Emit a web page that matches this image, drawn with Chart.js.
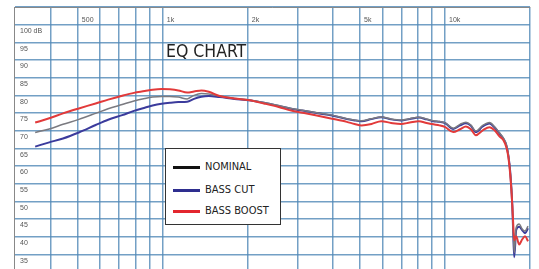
<!DOCTYPE html>
<html>
<head>
<meta charset="utf-8">
<title>EQ CHART</title>
<script src="https://cdn.jsdelivr.net/npm/chart.js@4/dist/chart.umd.min.js"></script>
<style>
    body { margin: 0; background: #fff; overflow: hidden; }
    #wrap { position: relative; width: 539px; height: 300px; }
    #title {
        position: absolute; left: 166px; top: 42px;
        font: 17.5px/18px "Liberation Sans Narrow", "DejaVu Sans Condensed", sans-serif;
        color: #222;
    }
    #legend {
        position: absolute; left: 165px; top: 148px; width: 114px; height: 75px;
        background: #fff; border: 1.5px solid #333;
    }
    .row { position: absolute; left: 7px; height: 12px; display: flex; align-items: center; }
    .row span.swatch { display: inline-block; width: 27px; height: 3px; margin-right: 5px; }
    .row span.name { font: 11px/12px "Liberation Sans Narrow", "DejaVu Sans Condensed", sans-serif; color: #222; }
</style>
</head>
<body>
<div id="wrap">
    <canvas id="eqChart"></canvas>
    <div id="title">EQ CHART</div>
    <div id="legend"></div>
</div>
<script>
// frequencies (Hz)
const freqHz = [353, 396, 443, 504, 578, 640, 718, 790, 863, 920, 990, 1060, 1135, 1220, 1290, 1370, 1455, 1590, 1795, 2025,
    2280, 2575, 2850, 3120, 3510, 3976, 4486, 4783, 5060, 5490, 5940, 6440, 6980, 7500, 8070, 8600, 9100, 9550, 10020, 10690,
    11300, 11860, 12350, 12860, 13600, 14380, 14980, 15590, 16100, 16490, 16760, 17030, 17310, 17450, 17590, 17870, 18310, 18750, 19210, 19680];

const nominalDb = [69.5, 70.5, 71.8, 73.2, 74.9, 76.2, 77.4, 78.4, 79.1, 79.5, 79.7, 79.7, 79.5, 79.0, 80.0, 80.5, 80.4, 79.8, 79.1, 78.7,
    78.0, 77.1, 76.3, 75.8, 75.1, 74.4, 73.4, 73.0, 72.8, 73.4, 73.9, 73.3, 73.0, 73.4, 73.8, 73.3, 72.8, 72.6, 72.2, 70.7,
    71.8, 72.4, 71.6, 69.9, 71.5, 72.3, 71.1, 69.4, 67.9, 66.0, 63.2, 58.0, 49.2, 41.0, 35.5, 42.6, 43.6, 42.2, 41.6, 43.0];

const bassCutDb = [65.5, 66.7, 67.8, 69.5, 71.6, 73.1, 74.4, 75.6, 76.5, 77.1, 77.6, 77.9, 78.1, 78.2, 79.0, 79.6, 79.8, 79.5, 79.0, 78.6,
    77.9, 77.0, 76.2, 75.7, 75.0, 74.3, 73.3, 72.9, 72.7, 73.3, 73.8, 73.2, 72.9, 73.3, 73.7, 73.2, 72.7, 72.5, 72.1, 70.5,
    71.5, 72.1, 71.4, 69.6, 71.2, 72.0, 70.9, 69.2, 67.7, 65.9, 63.0, 58.2, 48.9, 40.4, 34.2, 41.9, 42.8, 41.9, 41.0, 42.4];

const bassBoostDb = [72.3, 73.5, 74.9, 76.3, 77.7, 78.8, 79.9, 80.7, 81.2, 81.6, 81.8, 81.7, 81.4, 80.8, 81.1, 81.4, 81.0, 79.8, 79.1, 78.6,
    77.7, 76.7, 75.7, 75.1, 74.3, 73.4, 72.5, 71.9, 71.5, 71.9, 72.7, 72.2, 71.9, 72.3, 72.7, 72.2, 71.8, 71.5, 71.0, 69.6,
    70.4, 71.2, 70.4, 68.7, 70.1, 71.0, 70.1, 68.4, 67.3, 65.3, 62.6, 57.4, 48.9, 43.3, 39.0, 40.1, 37.8, 39.2, 40.1, 38.7];

const seriesNames = ['NOMINAL', 'BASS CUT', 'BASS BOOST'];
const legendColors = ['#111111', '#2e2e8f', '#e3262e'];

// grid / tick positions
const yTicks = [35, 40, 45, 50, 55, 60, 65, 70, 75, 80, 85, 90, 95, 100, 105];
const xGridHz = [400, 500, 600, 700, 800, 900, 1000, 2000, 3000, 4000, 5000, 6000, 7000, 8000, 9000, 10000, 20000];
const xTickLabels = { 500: '500', 1000: '1k', 2000: '2k', 5000: '5k', 10000: '10k' };

const gridColor = 'rgba(80, 136, 182, 0.8)';
const tickFont = { family: 'Liberation Sans', size: 7 };

function points(values) {
    return values.map((v, i) => ({ x: freqHz[i], y: v }));
}

const ctx = document.getElementById('eqChart').getContext('2d');

const chart = new Chart(ctx, {
    type: 'line',
    data: {
        datasets: [
            { label: seriesNames[1], data: points(bassCutDb), borderColor: '#3b3b9c', borderWidth: 2, order: 3 },
            { label: seriesNames[0], data: points(nominalDb), borderColor: '#7a7a80', borderWidth: 1.5, order: 2 },
            { label: seriesNames[2], data: points(bassBoostDb), borderColor: '#e23a3a', borderWidth: 2, order: 1 }
        ]
    },
    options: {
        responsive: true,
        maintainAspectRatio: false,
        animation: false,
        devicePixelRatio: 1,
        layout: { padding: { top: -11, left: 2, right: 1, bottom: 17 } },
        elements: {
            point: { radius: 0 },
            line: { cubicInterpolationMode: 'monotone', fill: false }
        },
        plugins: {
            legend: { display: false },
            tooltip: { enabled: false }
        },
        scales: {
            x: {
                type: 'logarithmic',
                position: 'top',
                min: 297,
                max: 20000,
                afterBuildTicks: (scale) => { scale.ticks = xGridHz.map(v => ({ value: v })); },
                ticks: {
                    mirror: true,
                    padding: 9,
                    align: 'start',
                    labelOffset: 4,
                    autoSkip: false,
                    maxRotation: 0,
                    font: tickFont,
                    color: '#555',
                    callback: (v) => xTickLabels[v] || ''
                },
                grid: { color: gridColor, lineWidth: 1.5, drawTicks: false },
                border: { display: true, color: '#888', width: 1 }
            },
            y: {
                type: 'linear',
                min: 26.9,
                max: 105,
                afterBuildTicks: (scale) => { scale.ticks = yTicks.map(v => ({ value: v })); },
                ticks: {
                    mirror: true,
                    padding: 6,
                    align: 'start',
                    labelOffset: 3,
                    font: tickFont,
                    color: '#555',
                    callback: (v) => v === 100 ? '100 dB' : (v > 100 ? '' : String(v))
                },
                grid: { color: gridColor, lineWidth: 1.6, drawTicks: false },
                border: { display: true, color: '#888', width: 1 }
            }
        }
    }
});

// boxed legend inside the plot
const legend = document.getElementById('legend');
const rowTops = [12, 35, 56];
seriesNames.forEach((name, i) => {
    const row = document.createElement('div');
    row.className = 'row';
    row.style.top = rowTops[i] + 'px';
    row.innerHTML = '<span class="swatch" style="background:' + legendColors[i] + '"></span><span class="name">' + name + '</span>';
    legend.appendChild(row);
});
</script>
</body>
</html>
